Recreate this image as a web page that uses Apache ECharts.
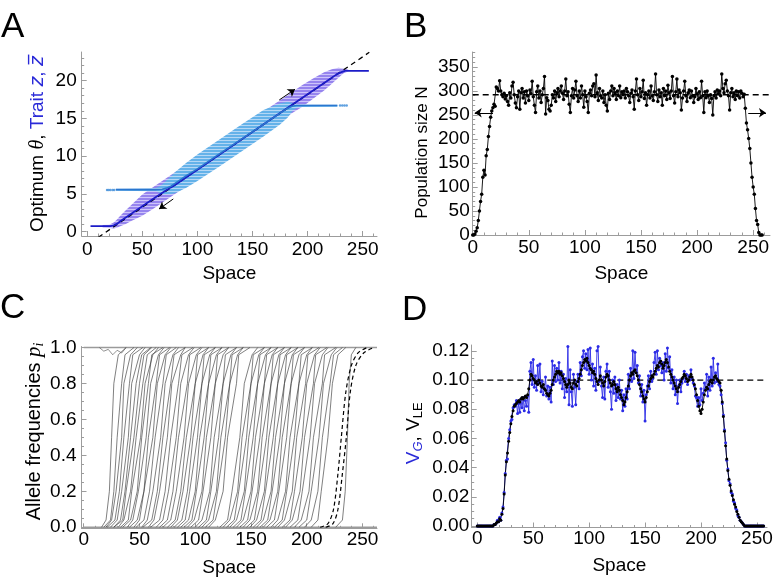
<!DOCTYPE html>
<html><head><meta charset="utf-8">
<script src="https://cdn.jsdelivr.net/npm/echarts@6.0.0/dist/echarts.min.js"></script>
<style>html,body{margin:0;padding:0;background:#fff}#c{width:776px;height:578px}</style>
</head><body><div id="c"></div>
<script>
// ---------- Panel A : optimum and trait clouds ----------
const aXTicks = [0, 50, 100, 150, 200, 250];
const aYTicks = [0, 5, 10, 15, 20];
const aDashX = [10.1, 256];
const aDashY = [-0.77, 23.76];
// purple cloud (later time, around dark mean)
const aPurX  = [14, 20, 24, 27, 30, 35, 40, 50, 60, 70, 80, 100, 120, 140, 160, 175, 185, 195, 205, 215, 222, 228, 233, 237];
const aPurLo = [0.5, 0.45, 0.4, 0.5, 0.7, 1.0, 1.4, 2.1, 3.0, 4.0, 5.0, 7.0, 9.0, 11.0, 13.0, 14.5, 15.6, 16.5, 17.6, 18.7, 19.6, 20.4, 21.0, 21.2];
const aPurHi = [0.85, 0.9, 1.2, 1.6, 2.1, 2.8, 3.5, 4.9, 5.9, 6.9, 7.9, 9.9, 11.9, 13.9, 15.9, 17.4, 18.4, 19.4, 20.3, 21.1, 21.5, 21.7, 21.6, 21.45];
// dark blue mean trait
const aDarkX = [3, 21, 24, 27, 30, 35, 40, 50, 60, 70, 76, 80, 100, 140, 180, 190, 200, 210, 220, 226, 230, 234, 255.6];
const aDarkY = [0.7, 0.7, 0.8, 1.0, 1.35, 1.85, 2.35, 3.35, 4.35, 5.3, 5.85, 6.2, 8.2, 12.2, 16.2, 17.2, 18.2, 19.2, 20.2, 20.8, 21.1, 21.3, 21.3];
// light blue cloud (earlier time)
const aLigX  = [26, 62, 66, 70, 75, 80, 90, 100, 120, 140, 160, 175, 182, 187, 192, 227];
const aLigLo = [5.4, 5.35, 5.1, 4.9, 4.9, 5.1, 5.8, 6.7, 8.6, 10.6, 12.6, 14.2, 15.1, 16.1, 16.5, 16.55];
const aLigHi = [5.65, 5.75, 6.0, 6.5, 7.2, 7.9, 9.1, 10.2, 12.2, 14.2, 16.1, 17.0, 17.2, 17.0, 16.85, 16.85];
// light blue mean trait
const aLmX = [26, 62, 68, 72, 76, 80, 90, 100, 120, 140, 160, 175, 182, 186, 190, 227];
const aLmY = [5.55, 5.55, 5.6, 5.75, 6.0, 6.4, 7.4, 8.3, 10.3, 12.25, 14.2, 15.7, 16.35, 16.6, 16.7, 16.7];
const aDotsX = [18, 19.5, 21, 23, 24.5, 229.5, 231.5, 233.5, 235.5];
const aDotsY = [5.5, 5.5, 5.5, 5.5, 5.5, 16.7, 16.7, 16.7, 16.7];
const aArrows = [[[174.3, 17.44], [188.6, 18.86]], [[78.1, 4.31], [65.2, 2.98]]];

// ---------- Panel B : population size ----------
const bXTicks = [0, 50, 100, 150, 200, 250];
const bYTicks = [0, 50, 100, 150, 200, 250, 300, 350];
const bK = 292;
const bPop = [
 0,0,2,8,15,30,50,70,85,120,135,125,165,178,205,226,245,258,265,272,268,308,305,300,321,
 300,292,288,295,283,290,278,270,296,285,
 310,318,292,275,265,288,300,262,296,305,
 285,298,275,300,290,280,302,294,320,288,
 270,255,298,310,285,300,276,292,305,330,
 252,286,280,262,258,270,292,285,300,278,
 296,305,288,300,310,295,282,300,325,290,
 298,272,255,290,305,285,302,320,290,278,
 300,285,310,292,266,300,288,278,255,295,
 302,290,310,315,288,333,296,280,305,290,
 285,300,276,292,270,258,295,282,300,310,
 290,305,296,282,300,290,310,286,298,292,
 300,285,305,298,290,276,295,302,288,262,
 300,325,292,280,305,288,298,322,284,296,
 270,292,300,285,310,290,280,298,335,292,
 278,302,288,296,270,305,290,300,282,312,
 296,284,300,330,290,275,298,325,288,302,
 296,260,285,300,320,290,278,296,302,286,
 300,290,276,288,305,294,282,298,286,320,
 290,255,298,286,300,290,276,292,284,250,
 290,298,285,302,294,300,290,335,305,296,
 315,322,300,290,260,296,305,288,296,282,
 300,290,298,285,300,295,288,293,
 264,233,219,201,180,150,120,100,85,55,30,22,5,0,0,0
];
const bArrows = [[[18.1, 254.5], [1.8, 254.5]], [[245.6, 254.5], [261.4, 254.5]]];

// ---------- Panel C : allele frequency clines ----------
const cXTicks = [0, 50, 100, 150, 200, 250];
const cYTicks = [0, 0.2, 0.4, 0.6, 0.8, 1.0];
const cP = [0, 0.04, 0.2, 0.5, 0.8, 0.96, 1];
const cClines = [
 [16,20,23,25,27,31,38],[18,24,27,30,34,37,45],[20,25,29,34,36,42,48],[21,28,32,36,41,44,53],
 [24,30,34,40,43,50,55],[27,33,37,42,47,52,60],[27,35,38,45,50,54,61],[31,36,42,47,53,57,65],
 [33,40,43,51,55,62,67],[35,42,48,52,58,61,71],[39,44,49,56,60,67,72],[41,48,54,58,65,68,77],
 [45,50,54,62,66,73,78],[47,54,59,64,71,74,83],[52,57,62,69,73,80,85],[53,61,66,71,78,81,91],
 [58,63,68,75,79,87,91],[60,68,73,78,85,88,98],[65,71,76,83,87,94,99],[68,75,80,85,93,95,105],
 [71,78,83,90,94,101,106],[75,82,87,92,100,102,112],[78,84,89,96,100,107,112],[81,88,93,98,106,108,118],
 [84,91,95,102,106,113,118],[87,94,100,104,112,114,124],[90,97,101,108,112,119,124],[93,99,106,110,118,120,130],
 [96,103,107,114,118,125,130],[100,106,113,117,125,127,137],[103,110,114,121,125,132,137],[106,112,119,123,131,133,143],
 [109,116,120,127,131,138,143],[112,118,125,129,137,139,149],[122,129,133,140,144,151,156],[125,131,138,142,150,152,162],
 [128,135,139,146,150,157,162],[131,137,144,148,156,158,168],[134,141,145,152,156,163,168],[137,143,150,154,162,164,174],
 [140,147,151,158,162,169,174],[143,149,156,160,168,170,180],[146,153,157,164,168,175,180],[149,155,162,166,174,176,186],
 [152,159,163,170,174,181,186],[155,161,168,172,180,182,192],[158,165,169,176,180,187,192],[161,167,174,178,186,188,198],
 [164,171,175,182,186,193,198],[168,174,181,185,193,195,205],[171,178,182,189,193,200,205],[174,180,187,191,199,201,211],
 [178,185,189,196,200,207,212],[181,187,194,198,206,208,218],[185,192,196,203,207,214,219],[189,195,202,206,214,216,226],
 [193,200,204,211,215,222,227],[198,204,210,214,221,224,232],[204,210,213,219,223,228,235],[226,232,234.5,236.5,238,240,244]
];
// a locus that wanders just below fixation near the left edge
const cNoiseX = [14, 18, 22, 26, 30, 34, 38];
const cNoiseP = [1, 0.98, 0.99, 0.96, 0.985, 0.97, 1];
const cDashP  = [0, 0.02, 0.1, 0.3, 0.5, 0.75, 0.9, 0.97, 1];
const cDash1X = [212, 219, 224, 228, 231, 235, 240, 246, 254];
const cDash2X = [217, 223.5, 228, 232, 235.5, 239, 244, 251, 260];
const cFixedX = [0, 263];
const cFixedP = [0, 1];

// ---------- Panel D : genetic variance ----------
const dXTicks = [0, 50, 100, 150, 200, 250];
const dYTicks = [0, 0.02, 0.04, 0.06, 0.08, 0.10, 0.12];
const dRef = 0.1;
const dVLE = [
 0,0,0,0,0,0,0,0,0,0,0,0,0,0,0,
 0.001,0.001,0.002,0.003,0.003,0.005,0.004,0.008,0.012,0.022,
 0.035,0.044,0.05,0.058,0.064,0.07,0.075,0.079,0.082,0.083,
 0.084,0.085,0.086,0.085,0.087,0.088,0.087,0.088,0.089,0.088,
 0.09,0.094,0.1,0.104,0.103,0.101,0.1,0.098,0.099,0.097,
 0.1,0.098,0.096,0.095,0.097,0.094,0.093,0.091,0.09,0.089,
 0.091,0.093,0.097,0.1,0.102,0.104,0.106,0.105,0.106,0.104,
 0.105,0.103,0.101,0.099,0.097,0.095,0.097,0.1,0.098,0.095,
 0.094,0.098,0.1,0.097,0.096,0.099,0.101,0.104,0.107,0.11,
 0.112,0.114,0.113,0.115,0.112,0.11,0.108,0.107,0.105,0.106,
 0.104,0.101,0.099,0.097,0.1,0.103,0.1,0.098,0.096,0.099,
 0.102,0.104,0.103,0.1,0.098,0.096,0.097,0.099,0.097,0.094,
 0.092,0.095,0.093,0.09,0.088,0.086,0.083,0.085,0.088,0.092,
 0.096,0.1,0.103,0.105,0.104,0.106,0.107,0.105,0.103,0.1,
 0.097,0.094,0.092,0.089,0.087,0.085,0.088,0.092,0.096,0.099,
 0.101,0.103,0.102,0.104,0.106,0.108,0.11,0.109,0.112,0.113,
 0.111,0.108,0.11,0.112,0.114,0.112,0.109,0.106,0.104,0.102,
 0.1,0.098,0.096,0.094,0.092,0.095,0.097,0.099,0.101,0.102,
 0.104,0.103,0.101,0.099,0.1,0.102,0.104,0.102,0.1,0.097,
 0.094,0.09,0.086,0.082,0.079,0.077,0.08,0.085,0.09,0.093,
 0.095,0.094,0.097,0.099,0.1,0.098,0.1,0.102,0.103,0.101,
 0.1,0.099,0.098,0.093,0.085,0.075,0.065,0.055,0.046,0.038,
 0.032,0.028,0.024,0.021,0.018,0.015,0.013,0.01,0.008,0.006,
 0.004,0.003,0.002,0.001,0,0,0,0,0,0,
 0,0,0,0,0,0,0,0,0,0,0,0
];
const dVG = [
 0,0,0,0,0,0,0,0,0,0,0,0,0,0,0,
 0.001,0.001,0.002,0.004,0.003,0.006,0.004,0.009,0.013,0.023,
 0.036,0.045,0.046,0.06,0.066,0.072,0.073,0.081,0.083,0.082,
 0.086,0.077,0.084,0.078,0.087,0.081,0.088,0.079,0.086,0.082,
 0.089,0.078,0.106,0.112,0.097,0.114,0.095,0.103,0.093,0.11,
 0.098,0.111,0.092,0.099,0.09,0.094,0.102,0.089,0.096,0.087,
 0.095,0.085,0.113,0.097,0.11,0.099,0.108,0.1,0.112,0.098,
 0.106,0.094,0.104,0.088,0.101,0.092,0.123,0.083,0.107,0.092,
 0.082,0.104,0.095,0.083,0.099,0.104,0.094,0.112,0.103,0.116,
 0.12,0.108,0.118,0.107,0.121,0.104,0.122,0.1,0.111,0.096,
 0.108,0.093,0.12,0.123,0.099,0.109,0.096,0.088,0.102,0.087,
 0.106,0.111,0.095,0.106,0.092,0.08,0.1,0.091,0.102,0.086,
 0.097,0.088,0.1,0.087,0.093,0.079,0.09,0.082,0.094,0.087,
 0.104,0.094,0.108,0.099,0.12,0.101,0.119,0.105,0.11,0.098,
 0.103,0.089,0.097,0.085,0.093,0.072,0.09,0.096,0.103,0.094,
 0.106,0.099,0.101,0.112,0.119,0.104,0.12,0.107,0.115,0.11,
 0.105,0.112,0.1,0.118,0.106,0.122,0.108,0.116,0.098,0.107,
 0.094,0.102,0.09,0.1,0.084,0.096,0.1,0.092,0.098,0.101,
 0.106,0.099,0.104,0.097,0.103,0.1,0.107,0.101,0.098,0.096,
 0.089,0.088,0.082,0.088,0.083,0.094,0.086,0.091,0.098,0.094,
 0.104,0.089,0.102,0.093,0.109,0.096,0.115,0.098,0.105,0.099,
 0.111,0.097,0.096,0.09,0.084,0.076,0.066,0.057,0.045,0.039,
 0.031,0.029,0.023,0.022,0.017,0.016,0.012,0.011,0.007,0.006,
 0.004,0.003,0.002,0.001,0,0,0,0,0,0,
 0,0,0,0,0,0,0,0,0,0,0,0
];

// ---------- helpers ----------
const FONT = "'Liberation Sans', Arial, Helvetica, sans-serif";
const AX = '#9c9c9c';
function steps(a, b, s) { const r = []; for (let k = 0; a + k * s <= b + 1e-9; k++) r.push(+(a + k * s).toFixed(4)); return r; }
function zip(xs, ys) { return xs.map((x, i) => [x, ys[i]]); }
function stripe(c1, c2) {
  const cv = document.createElement('canvas'); cv.width = 4; cv.height = 3;
  const g = cv.getContext('2d'); g.fillStyle = c2; g.fillRect(0, 0, 4, 3);
  g.fillStyle = c1; g.fillRect(0, 0, 4, 2);
  return { image: cv, repeat: 'repeat' };
}
function mainAxis(kind, grid, min, max, ticks, fmt, margin, name, nameGap, nts) {
  return {
    type: 'value', gridIndex: grid, min: min, max: max, position: kind === 'x' ? 'bottom' : 'left',
    axisLine: { show: true, onZero: false, lineStyle: { color: AX, width: 1 } },
    axisTick: { show: true, inside: true, length: 5, customValues: ticks, lineStyle: { color: AX } },
    axisLabel: { show: true, customValues: ticks, formatter: fmt, margin: margin, color: '#000', fontSize: 19, fontFamily: FONT },
    splitLine: { show: false },
    name: name, nameLocation: 'middle', nameGap: nameGap, nameRotate: kind === 'y' ? 90 : 0,
    nameTextStyle: Object.assign({ fontSize: 19, fontFamily: FONT, color: '#000' }, nts || {})
  };
}
function minorAxis(kind, grid, min, max, ticks) {
  return {
    type: 'value', gridIndex: grid, min: min, max: max, position: kind === 'x' ? 'bottom' : 'left',
    axisLine: { show: false, onZero: false },
    axisTick: { show: true, inside: true, length: 2.5, customValues: ticks, lineStyle: { color: AX } },
    axisLabel: { show: false }, splitLine: { show: false }
  };
}
const fmtInt = v => String(v);
const BLUE = '#2a2ad8';
const base = { fontSize: 19, fontFamily: FONT, color: '#000' };

const richA = {
  n: base,
  t: { fontSize: 20, fontFamily: "'Liberation Serif', serif", fontStyle: 'italic', color: '#000' },
  b: { fontSize: 19, fontFamily: FONT, color: BLUE },
  bz: { fontSize: 19, fontFamily: "'DejaVu Sans', sans-serif", fontStyle: 'italic', color: BLUE }
};
const richC = {
  n: { fontSize: 20, fontFamily: FONT, color: '#000' },
  p: { fontSize: 21, fontFamily: "'Liberation Serif', serif", fontStyle: 'italic', color: '#000' },
  s: { fontSize: 14, fontFamily: "'Liberation Serif', serif", fontStyle: 'italic', color: '#000', padding: [9, 0, 0, 0] }
};
const richD = {
  n: base,
  bv: { fontSize: 19, fontFamily: FONT, color: BLUE },
  bs: { fontSize: 13, fontFamily: FONT, fontStyle: 'italic', color: BLUE, padding: [9, 0, 0, 0] },
  s: { fontSize: 13, fontFamily: FONT, color: '#000', padding: [9, 0, 0, 0] }
};

const xAxes = [
  mainAxis('x', 0, -5, 263, aXTicks, fmtInt, 4, 'Space', 28),
  minorAxis('x', 0, -5, 263, steps(0, 260, 10)),
  mainAxis('x', 1, 0, 265, bXTicks, fmtInt, 3, 'Space', 29),
  minorAxis('x', 1, 0, 265, steps(0, 260, 10)),
  mainAxis('x', 2, -2, 263, cXTicks, fmtInt, 2, 'Space', 30),
  minorAxis('x', 2, -2, 263, steps(0, 260, 10)),
  mainAxis('x', 3, -5, 259, dXTicks, fmtInt, 2, 'Space', 29),
  minorAxis('x', 3, -5, 259, steps(0, 250, 10))
];
const yAxes = [
  mainAxis('y', 0, -0.6, 23.8, aYTicks, fmtInt, 5, '{n|Optimum }{t|θ}{n|, }{b|Trait }{bz|z}{b|, }{bz|z\u0305}', 34, { rich: richA }),
  minorAxis('y', 0, -0.6, 23.8, steps(0, 23, 1)),
  mainAxis('y', 1, 0, 381, bYTicks, fmtInt, 3, 'Population size N', 42, { fontSize: 17, padding: [0, 18, 0, 0] }),
  minorAxis('y', 1, 0, 381, steps(0, 380, 10)),
  mainAxis('y', 2, -0.006, 1.006, cYTicks, v => v.toFixed(1), 5, '{n|Allele frequencies }{p|p}{s|i}', 33, { rich: richC, padding: [0, 0, 0, 12] }),
  minorAxis('y', 2, -0.006, 1.006, steps(0, 1, 0.05)),
  mainAxis('y', 3, -0.001, 0.124, dYTicks, v => v.toFixed(2), 2.5, '{bv|V}{bs|G}{n|, V}{s|LE}', 47, { rich: richD, padding: [0, 0, 0, 6] }),
  minorAxis('y', 3, -0.001, 0.124, steps(0, 0.12, 0.005))
];

function band(xs, lo, hi, fill) {
  return {
    type: 'custom', xAxisIndex: 0, yAxisIndex: 0, silent: true, data: [[xs[0], lo[0]]],
    renderItem: function (params, api) {
      const pts = [];
      for (let i = 0; i < xs.length; i++) pts.push(api.coord([xs[i], lo[i]]));
      for (let i = xs.length - 1; i >= 0; i--) pts.push(api.coord([xs[i], hi[i]]));
      return { type: 'polygon', shape: { points: pts }, style: { fill: fill, stroke: null } };
    }
  };
}
function arrows(xi, yi, list) {
  return {
    type: 'lines', coordinateSystem: 'cartesian2d', xAxisIndex: xi, yAxisIndex: yi, silent: true,
    symbol: ['none', 'arrow'], symbolSize: 7,
    lineStyle: { color: '#000', width: 1, opacity: 1 },
    data: list.map(c => ({ coords: c }))
  };
}

const series = [];
// A
series.push({ type: 'line', xAxisIndex: 0, yAxisIndex: 0, data: zip(aDashX, aDashY), symbol: 'none', silent: true,
  lineStyle: { color: '#000', width: 1.3, type: [5, 4] } });
series.push(band(aPurX, aPurLo, aPurHi, stripe('rgb(150,132,238)', 'rgb(205,196,250)')));
series.push({ type: 'line', xAxisIndex: 0, yAxisIndex: 0, data: zip(aDarkX, aDarkY), symbol: 'none', silent: true,
  lineStyle: { color: '#1c1cc8', width: 1.8 } });
series.push(band(aLigX, aLigLo, aLigHi, stripe('rgb(100,178,233)', 'rgb(180,215,245)')));
series.push({ type: 'line', xAxisIndex: 0, yAxisIndex: 0, data: zip(aLmX, aLmY), symbol: 'none', silent: true,
  lineStyle: { color: '#2a76cf', width: 1.6 } });
series.push({ type: 'scatter', xAxisIndex: 0, yAxisIndex: 0, data: zip(aDotsX, aDotsY), symbolSize: 2.5, silent: true,
  itemStyle: { color: '#3a8ad8' } });
series.push(arrows(0, 0, aArrows));
// B
series.push({ type: 'line', xAxisIndex: 2, yAxisIndex: 2, data: [[0, bK], [265, bK]], symbol: 'none', silent: true,
  lineStyle: { color: '#000', width: 1.3, type: [6, 4] } });
series.push({ type: 'line', xAxisIndex: 2, yAxisIndex: 2, data: bPop.map((v, i) => [i, v]), symbol: 'circle', symbolSize: 3.5, silent: true,
  itemStyle: { color: '#000' }, lineStyle: { color: '#000', width: 0.9 } });
series.push(arrows(2, 2, bArrows));
// C
cFixedP.forEach(p => series.push({ type: 'line', xAxisIndex: 4, yAxisIndex: 4, data: cFixedX.map(x => [x, p]), symbol: 'none', silent: true,
  lineStyle: { color: '#9a9a9a', width: 1.5 } }));
cClines.forEach(xs => series.push({ type: 'line', xAxisIndex: 4, yAxisIndex: 4, data: xs.map((x, j) => [x, cP[j]]), symbol: 'none', silent: true,
  lineStyle: { color: '#3a3a3a', width: 0.65 } }));
series.push({ type: 'line', xAxisIndex: 4, yAxisIndex: 4, data: zip(cNoiseX, cNoiseP), symbol: 'none', silent: true,
  lineStyle: { color: '#555', width: 0.65 } });
[cDash1X, cDash2X].forEach(xs => series.push({ type: 'line', xAxisIndex: 4, yAxisIndex: 4, data: zip(xs, cDashP), symbol: 'none', smooth: 0.3, silent: true,
  lineStyle: { color: '#000', width: 1.2, type: [4, 3] } }));
// D
series.push({ type: 'line', xAxisIndex: 6, yAxisIndex: 6, data: [[0, dRef], [259, dRef]], symbol: 'none', silent: true,
  lineStyle: { color: '#000', width: 1.3, type: [6, 4] } });
series.push({ type: 'line', xAxisIndex: 6, yAxisIndex: 6, data: dVG.map((v, i) => [i, v]), symbol: 'circle', symbolSize: 3, silent: true,
  itemStyle: { color: '#2b2be6' }, lineStyle: { color: '#2b2be6', width: 0.9 } });
series.push({ type: 'line', xAxisIndex: 6, yAxisIndex: 6, data: dVLE.map((v, i) => [i, v]), symbol: 'circle', symbolSize: 3, silent: true,
  itemStyle: { color: '#000' }, lineStyle: { color: '#000', width: 0.9 } });

const letter = (t, x, y) => ({ type: 'text', x: x, y: y, silent: true,
  style: { text: t, fontSize: 35, fontFamily: FONT, fill: '#000', verticalAlign: 'top', align: 'left' } });

const chart = echarts.init(document.getElementById('c'), null, { renderer: 'canvas' });
chart.setOption({
  animation: false,
  backgroundColor: '#fff',
  grid: [
    { left: 81.7, top: 52, width: 295.3, height: 184, outerBoundsMode: 'none' },
    { left: 472.7, top: 52, width: 297.3, height: 183, outerBoundsMode: 'none' },
    { left: 81.5, top: 346.5, width: 295.5, height: 181.8, outerBoundsMode: 'none' },
    { left: 471.7, top: 345, width: 295.3, height: 182.5, outerBoundsMode: 'none' }
  ],
  xAxis: xAxes,
  yAxis: yAxes,
  series: series,
  graphic: [letter('A', 1, 10), letter('B', 404, 10), letter('C', 0, 291), letter('D', 402, 293)]
});
</script></body></html>
